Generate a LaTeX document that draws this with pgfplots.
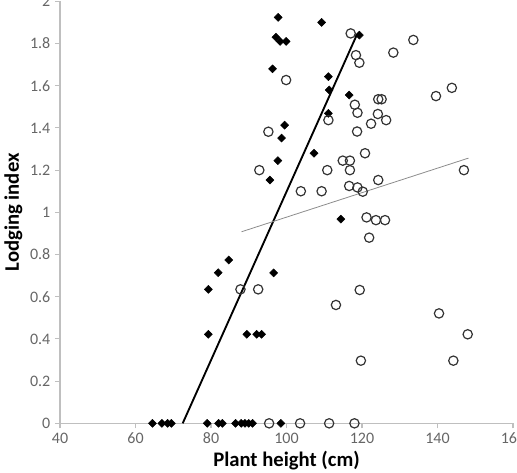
\documentclass[border=0pt]{standalone}
\usepackage{fontspec}
\setmainfont{Carlito}
\usepackage{pgfplots}
\pgfplotsset{compat=1.18}
\begin{document}
\begin{tikzpicture}
\begin{axis}[
  scale only axis, width=339.75pt, height=316.5pt,
  xmin=40, xmax=160, ymin=0, ymax=2,
  xtick={40,60,80,100,120,140,160},
  ytick={0,0.2,0.4,0.6,0.8,1,1.2,1.4,1.6,1.8,2},
  yticklabels={0,0.2,0.4,0.6,0.8,1,1.2,1.4,1.6,1.8,2},
  axis x line=bottom, axis y line=left,
  axis line style={-, draw=black!25, line width=0.8pt},
  tick style={draw=black!25, line width=0.8pt},
  tick align=outside, major tick length=3.75pt,
  tick label style={font=\fontsize{12}{14}\selectfont, text=black!60},
  /pgf/number format/assume math mode=true,
  xlabel={Plant height (cm)}, ylabel={Lodging index},
  xlabel style={font=\bfseries\fontsize{15.5}{18}\selectfont, at={(axis description cs:0.5,0)}, anchor=center, yshift=-28pt},
  ylabel style={font=\bfseries\fontsize{15.5}{18}\selectfont, at={(axis description cs:0,0.5)}, anchor=center, yshift=35pt},
  clip=false,
]
\addplot[only marks, mark=square*, mark size=2.1pt, mark options={rotate=45, fill=black, draw=black}] coordinates {
(64.5,0) (67,0) (68.5,0) (69.5,0) (79,0) (82,0) (83,0) (86.5,0) (88,0) (89,0) (90,0) (91,0) (98.5,0)
(79.3,0.422) (89.5,0.422) (92.1,0.422) (93.4,0.422)
(79.3,0.635) (81.9,0.714) (84.7,0.774) (96.6,0.713)
(114.4,0.968) (95.6,1.153) (97.7,1.245) (107.3,1.28) (98.7,1.352) (99.5,1.413)
(111.1,1.469) (116.6,1.556) (111.3,1.58) (111.1,1.643) (96.3,1.68)
(97.2,1.83) (98.3,1.81) (99.9,1.81) (97.8,1.924) (109.3,1.90) (119.3,1.84)
};
\addplot[only marks, mark=o, mark size=3.5pt, mark options={line width=0.9pt, draw=black!80}] coordinates {
(95.4,0) (103.6,0) (111.3,0) (118.0,0)
(119.7,0.297) (144.2,0.297) (148.0,0.422) (140.4,0.521) (113.1,0.561) (119.4,0.632) (87.8,0.635) (92.5,0.635)
(121.9,0.88) (121.2,0.976) (123.7,0.963) (126.1,0.963)
(103.8,1.10) (109.3,1.10) (120.2,1.098) (116.6,1.125) (118.8,1.118) (124.3,1.153)
(92.8,1.20) (110.8,1.20) (116.8,1.20) (147.0,1.20)
(114.9,1.245) (116.8,1.245) (120.8,1.28)
(95.2,1.382) (118.7,1.383) (122.4,1.42) (111.1,1.437) (126.4,1.437) (124.2,1.466) (118.8,1.472)
(118.1,1.51) (124.3,1.536) (125.2,1.536) (139.6,1.551) (143.8,1.59) (99.9,1.627)
(119.3,1.709) (118.4,1.745) (128.3,1.757) (133.6,1.817) (117.0,1.848)
};
\addplot[black, line width=1.4pt] coordinates {(72.5,0) (118.6,1.84)};
\addplot[black!45, line width=0.6pt] coordinates {(88.1,0.908) (148.2,1.257)};
\coordinate (bbsw) at (rel axis cs:0,0);
\coordinate (bbne) at (rel axis cs:1,1);
\end{axis}
\pgfresetboundingbox
\path[use as bounding box] ([xshift=-45pt,yshift=-36.5pt]bbsw) rectangle ([xshift=3pt,yshift=1pt]bbne);
\end{tikzpicture}
\end{document}
